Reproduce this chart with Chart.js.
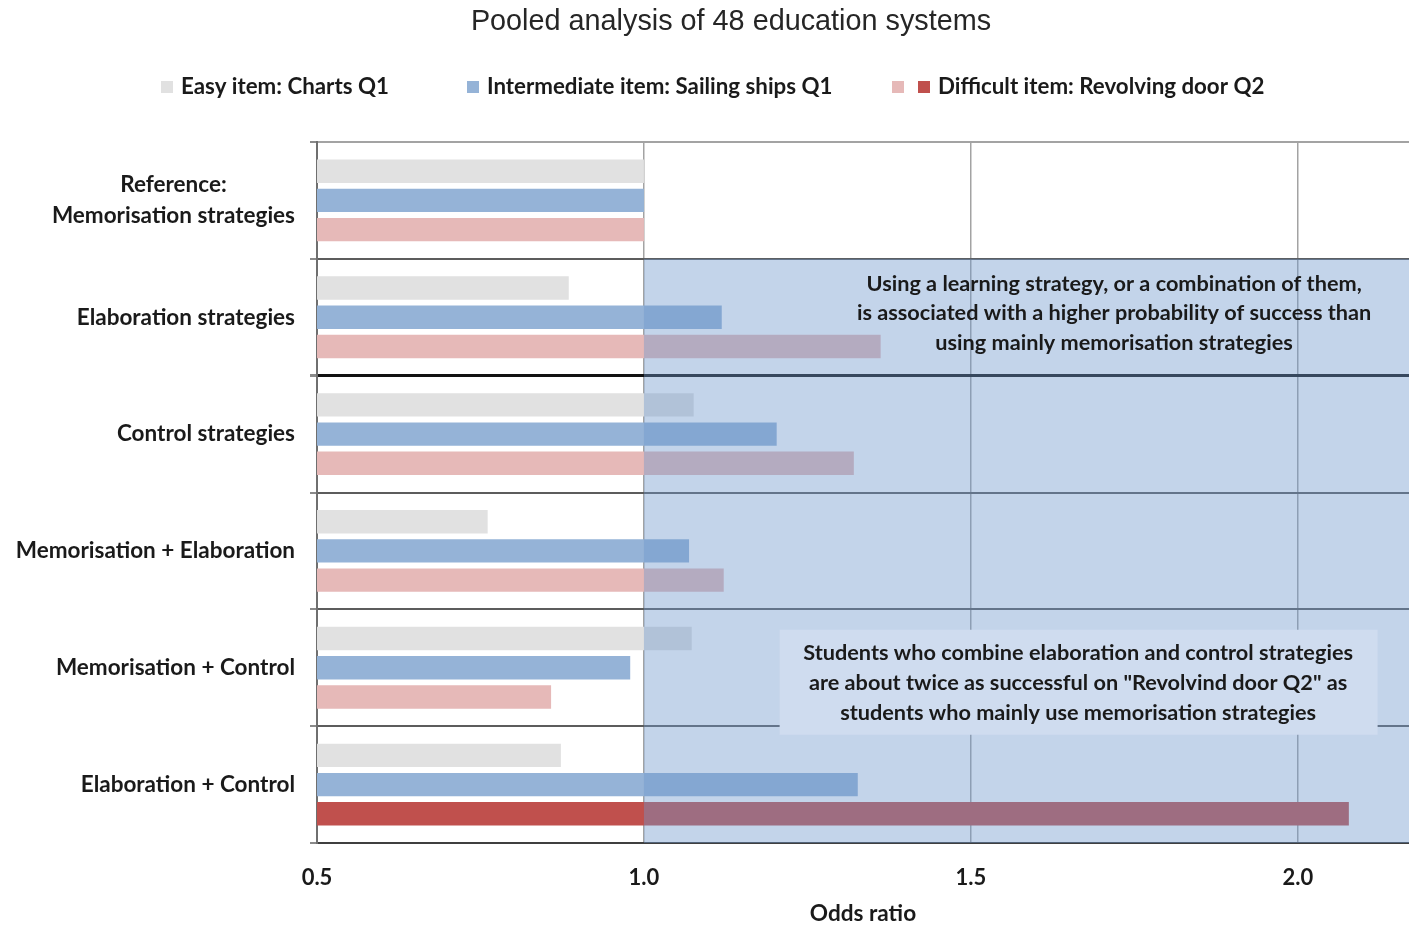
<!DOCTYPE html>
<html>
<head>
<meta charset="utf-8">
<script src="https://cdn.jsdelivr.net/npm/chart.js@4.4.1/dist/chart.umd.min.js"></script>
<style>
  html, body { margin: 0; padding: 0; background: #ffffff; }
  #wrap { width: 1409px; height: 925px; position: relative; }
</style>
</head>
<body>
<div id="wrap"><canvas id="chart"></canvas></div>
<script>
// Learning-strategy groups (rows) and odds ratios per item difficulty
const categories = [
  ["Reference:", "Memorisation strategies"],
  "Elaboration strategies",
  "Control strategies",
  "Memorisation + Elaboration",
  "Memorisation + Control",
  "Elaboration + Control"
];
const easyValues = [1.0, 0.885, 1.076, 0.761, 1.073, 0.873];
const intermediateValues = [1.0, 1.119, 1.203, 1.069, 0.979, 1.327];
const difficultValues = [1.0, 1.362, 1.321, 1.122, 0.858, 2.078];
const seriesNames = [
  "Easy item: Charts Q1",
  "Intermediate item: Sailing ships Q1",
  "Difficult item: Revolving door Q2"
];
const xTickValues = [0.5, 1.0, 1.5, 2.0];
const chartTitle = "Pooled analysis of 48 education systems";
const xAxisTitle = "Odds ratio";
const noteTop = [
  "Using a learning strategy, or a combination of them,",
  "is associated with a higher probability of success than",
  "using mainly memorisation strategies"
];
const noteBottom = [
  "Students who combine elaboration and control strategies",
  "are about twice as successful on \"Revolvind door Q2\" as",
  "students who mainly use memorisation strategies"
];

const COLORS = {
  easy: '#e1e1e1',
  intermediate: '#95b3d7',
  difficult: '#e6b9b8',
  difficultStrong: '#c0504d',
  shade: 'rgba(110,150,205,0.41)',
  noteBox: '#cfdcef',
  text: '#1a1a1a'
};
const LABEL_FONT = 'Lato, "Open Sans", sans-serif';
const ROW_FONT_SIZE = 22.5;
const ROW_LINE_HEIGHT = 31;

// Shaded "better than reference" area, legend, title, notes and the
// two-line reference label (centred lines)
const decorations = {
  id: 'decorations',
  afterDatasetsDraw(chart) {
    const { ctx, chartArea, scales } = chart;
    const x = scales.x, y = scales.y;
    const half = (y.getPixelForValue(1) - y.getPixelForValue(0)) / 2;
    const x1 = x.getPixelForValue(1.0);
    const yTop = y.getPixelForValue(1) - half;

    ctx.save();
    ctx.fillStyle = COLORS.shade;
    ctx.fillRect(x1, yTop, chartArea.right - x1, chartArea.bottom - yTop);

    // box behind the lower note
    const bx0 = x.getPixelForValue(1.2075);
    const bx1 = x.getPixelForValue(2.122);
    const by0 = y.getPixelForValue(4) - 38;
    const by1 = y.getPixelForValue(4) + 67;
    ctx.fillStyle = COLORS.noteBox;
    ctx.fillRect(bx0, by0, bx1 - bx0, by1 - by0);

    ctx.fillStyle = COLORS.text;
    ctx.font = 'bold 21.7px ' + LABEL_FONT;
    ctx.textAlign = 'center';
    ctx.textBaseline = 'middle';
    const cxTop = x.getPixelForValue(1.719);
    const cyTop = y.getPixelForValue(1) - 4;
    noteTop.forEach((t, i) => ctx.fillText(t, cxTop, cyTop + (i - 1) * 29.5));
    const cxBot = x.getPixelForValue(1.664);
    const cyBot = y.getPixelForValue(4) + 15;
    noteBottom.forEach((t, i) => ctx.fillText(t, cxBot, cyBot + (i - 1) * 30));
    ctx.restore();
  },
  afterDraw(chart) {
    const { ctx, scales } = chart;
    ctx.save();
    // title
    ctx.fillStyle = '#262626';
    ctx.font = '28.8px "Liberation Sans", Arial, sans-serif';
    ctx.textAlign = 'center';
    ctx.textBaseline = 'middle';
    ctx.fillText(chartTitle, 731, 22);

    // first row label: lines centred on each other, block right-aligned
    const y = scales.y;
    const lines = categories[0];
    ctx.font = 'bold ' + ROW_FONT_SIZE + 'px ' + LABEL_FONT;
    const widest = Math.max(...lines.map(l => ctx.measureText(l).width));
    const rightEdge = y.right - 7 - 15;
    const cx = rightEdge - widest / 2;
    const cy = y.getPixelForValue(0);
    ctx.fillStyle = COLORS.text;
    lines.forEach((l, i) => ctx.fillText(l, cx, cy + (i - (lines.length - 1) / 2) * ROW_LINE_HEIGHT));

    // legend
    const ly = 87;
    ctx.font = 'bold 22.3px ' + LABEL_FONT;
    ctx.textAlign = 'left';
    const sw = 12;
    const items = [
      { swatches: [[161, COLORS.easy]], tx: 181, label: seriesNames[0] },
      { swatches: [[467, COLORS.intermediate]], tx: 487, label: seriesNames[1] },
      { swatches: [[892, COLORS.difficult], [918, COLORS.difficultStrong]], tx: 938, label: seriesNames[2] }
    ];
    items.forEach(it => {
      it.swatches.forEach(([sx, c]) => {
        ctx.fillStyle = c;
        ctx.fillRect(sx, ly - sw / 2, sw, sw);
      });
      ctx.fillStyle = COLORS.text;
      ctx.fillText(it.label, it.tx, ly);
    });
    ctx.restore();
  }
};

const lastRow = categories.length - 1;

new Chart(document.getElementById('chart'), {
  type: 'bar',
  data: {
    labels: categories,
    datasets: [
      { label: seriesNames[0], data: easyValues, backgroundColor: COLORS.easy },
      { label: seriesNames[1], data: intermediateValues, backgroundColor: COLORS.intermediate },
      {
        label: seriesNames[2], data: difficultValues,
        backgroundColor: ctx => ctx.dataIndex === lastRow ? COLORS.difficultStrong : COLORS.difficult
      }
    ]
  },
  options: {
    indexAxis: 'y',
    responsive: true,
    maintainAspectRatio: false,
    animation: false,
    barPercentage: 0.8,
    categoryPercentage: 0.75,
    layout: { padding: { top: 142, left: 0, right: 0, bottom: 0 } },
    plugins: {
      legend: { display: false },
      title: { display: false },
      tooltip: { enabled: false }
    },
    scales: {
      x: {
        type: 'linear',
        min: 0.5,
        max: 2.17,
        afterFit: s => { s.height = 82; },
        afterBuildTicks: s => { s.ticks = xTickValues.map(v => ({ value: v })); },
        ticks: {
          padding: 22,
          color: COLORS.text,
          font: { family: LABEL_FONT, size: 22, weight: 'bold' },
          callback: v => Number(v).toFixed(1)
        },
        grid: {
          drawTicks: false,
          color: ctx => (ctx.tick && ctx.tick.value === 0.5) ? 'rgba(0,0,0,0)' : '#a3a3a3',
          lineWidth: 1.5
        },
        border: { display: true, color: '#3f3f3f', width: 2 },
        title: {
          display: true,
          text: xAxisTitle,
          color: COLORS.text,
          font: { family: LABEL_FONT, size: 22.6, weight: 'bold', lineHeight: 1.0 },
          padding: { top: 0, bottom: 0 }
        }
      },
      y: {
        afterFit: s => { s.width = 317; },
        ticks: {
          padding: 15,
          color: ctx => ctx.index === 0 ? 'rgba(0,0,0,0)' : COLORS.text,
          font: { family: LABEL_FONT, size: ROW_FONT_SIZE, weight: 'bold', lineHeight: ROW_LINE_HEIGHT / ROW_FONT_SIZE }
        },
        grid: {
          offset: true,
          tickLength: 7,
          tickColor: '#8a8a8a',
          color: ctx => {
            if (ctx.index === undefined) return '#3f3f3f';
            if (ctx.index === 0) return '#a3a3a3';
            if (ctx.index === 2) return '#111111';
            return '#5c5c5c';
          },
          lineWidth: ctx => {
            if (ctx.index === 2) return 3;
            return 2;
          }
        },
        border: { display: true, color: '#6f6f6f', width: 2 }
      }
    }
  },
  plugins: [decorations]
});
</script>
</body>
</html>
